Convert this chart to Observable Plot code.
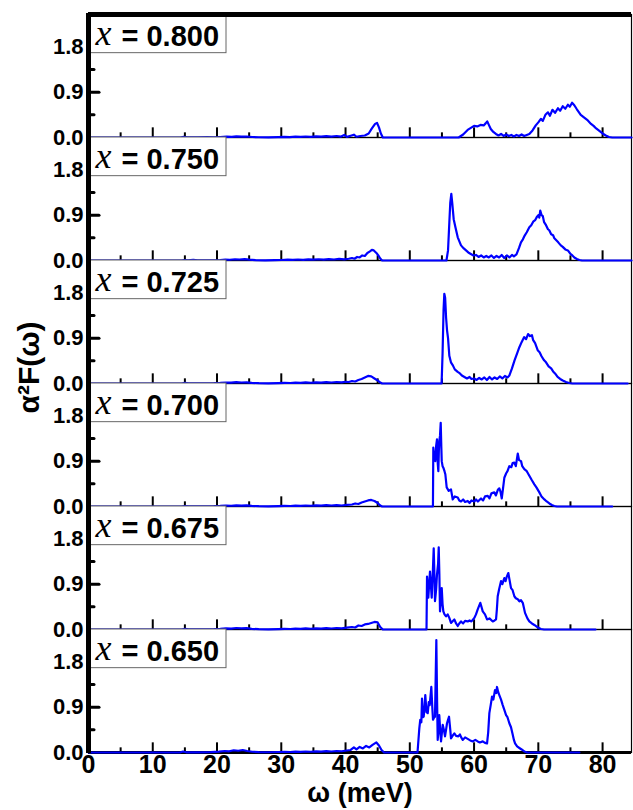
<!DOCTYPE html>
<html><head><meta charset="utf-8">
<script src="https://cdn.jsdelivr.net/npm/d3@7"></script>
<script src="https://cdn.jsdelivr.net/npm/@observablehq/plot@0.6"></script>
<style>html,body{margin:0;padding:0;background:#fff;overflow:hidden} svg{display:block}</style>
</head><body><div id="chart"></div>
<script>
const panels = ["0.800","0.750","0.725","0.700","0.675","0.650"];

const s800 = [[0,0],[14.3,0],[14.8,0.012],[15.4,0.004],[17,0.003],[18.5,0.006],[19.5,0.004],[20.5,0.01],[21.5,0.018],[22.3,0.014],[23,0.022],[23.8,0.017],[24.6,0.02],[25.5,0.01],[26.5,0.005],[28,0.003],[29.5,0.008],[30.5,0.012],[31.3,0.009],[32.2,0.016],[33,0.012],[33.8,0.02],[34.6,0.014],[35.4,0.022],[36.2,0.016],[37,0.026],[37.8,0.018],[38.6,0.03],[39.3,0.018],[39.8,0.05],[40.2,0.012],[40.8,0.035],[41.3,0.055],[41.7,0.015],[42.3,0.03],[43,0.04],[43.6,0.08],[44.1,0.18],[44.6,0.27],[44.9,0.29],[45.2,0.2],[45.5,0.08],[45.8,0],[57.6,0],[58.3,0.06],[59,0.15],[59.5,0.19],[60,0.23],[60.5,0.22],[61,0.25],[61.5,0.24],[61.8,0.28],[62.05,0.32],[62.3,0.25],[62.6,0.17],[63,0.11],[63.4,0.07],[63.8,0.04],[64.2,0.07],[64.6,0.03],[65,0.06],[65.4,0.03],[65.8,0.05],[66.2,0.02],[66.6,0.05],[67,0.03],[67.4,0.06],[67.8,0.03],[68.2,0.05],[68.6,0.07],[69.1,0.14],[69.6,0.24],[70,0.3],[70.4,0.37],[70.7,0.33],[71.1,0.45],[71.5,0.5],[71.8,0.43],[72.2,0.55],[72.6,0.49],[73.05,0.58],[73.4,0.53],[73.8,0.62],[74.2,0.57],[74.6,0.65],[74.9,0.61],[75.25,0.69],[75.6,0.64],[76,0.56],[76.6,0.45],[77.1,0.4],[77.6,0.35],[78.2,0.27],[78.6,0.23],[79,0.18],[79.5,0.13],[80,0.08],[80.5,0.04],[81,0.01],[81.5,0],[84.5,0]];

const s750 = [[0,0],[14.5,0],[15,0.01],[15.5,0.004],[16.3,0.012],[17,0.003],[19,0.005],[20.5,0.01],[21.3,0.02],[22,0.015],[22.8,0.025],[23.5,0.02],[24.3,0.028],[25,0.018],[26,0.008],[27.5,0.004],[29,0.006],[30,0.01],[31,0.016],[31.8,0.012],[32.6,0.02],[33.4,0.014],[34.2,0.022],[35,0.016],[35.8,0.025],[36.6,0.018],[37.4,0.028],[38.2,0.02],[39,0.032],[39.8,0.022],[40.5,0.035],[41,0.05],[41.4,0.035],[41.8,0.07],[42.2,0.06],[42.6,0.1],[43,0.09],[43.4,0.15],[43.8,0.18],[44.1,0.21],[44.4,0.2],[44.8,0.15],[45.1,0.1],[45.4,0.04],[45.7,0],[55.7,0],[55.95,0.2],[56.15,0.75],[56.3,1.15],[56.46,1.32],[56.6,1.15],[56.83,0.82],[57.1,0.66],[57.46,0.46],[57.97,0.3],[58.4,0.24],[58.75,0.2],[59.1,0.16],[59.5,0.13],[59.9,0.1],[60.3,0.11],[60.7,0.07],[61.1,0.1],[61.5,0.06],[61.9,0.09],[62.3,0.06],[62.7,0.1],[63.1,0.05],[63.5,0.09],[63.9,0.06],[64.3,0.11],[64.7,0.05],[65.1,0.1],[65.5,0.06],[65.9,0.11],[66.2,0.08],[66.6,0.12],[67,0.25],[67.3,0.36],[67.6,0.42],[67.9,0.5],[68.2,0.56],[68.6,0.66],[68.9,0.7],[69.2,0.77],[69.5,0.8],[69.8,0.87],[70,0.9],[70.15,0.85],[70.3,0.99],[70.5,0.9],[70.7,0.88],[70.9,0.76],[71.2,0.7],[71.5,0.62],[71.7,0.6],[72,0.52],[72.3,0.5],[72.5,0.44],[72.8,0.4],[73.1,0.36],[73.5,0.3],[73.8,0.27],[74.2,0.22],[74.6,0.2],[75,0.13],[75.3,0.1],[75.6,0.06],[76,0.03],[76.4,0.01],[76.8,0],[84.5,0]];

const s725 = [[0,0],[14.5,0],[15,0.012],[15.6,0.003],[17.5,0.004],[19.5,0.006],[20.5,0.012],[21.4,0.02],[22.2,0.016],[23,0.026],[23.8,0.02],[24.6,0.024],[25.4,0.012],[26.5,0.006],[28,0.004],[29.5,0.008],[30.5,0.013],[31.4,0.01],[32.2,0.018],[33,0.012],[33.8,0.022],[34.6,0.015],[35.4,0.024],[36.2,0.017],[37,0.028],[37.8,0.02],[38.6,0.03],[39.4,0.022],[40,0.035],[40.5,0.03],[41,0.05],[41.5,0.04],[42,0.07],[42.5,0.09],[43,0.12],[43.5,0.15],[44,0.14],[44.5,0.1],[45,0.06],[45.4,0.02],[45.7,0],[54.95,0],[55.1,0.6],[55.25,1.45],[55.37,1.78],[55.5,1.7],[55.65,1.3],[55.8,1.05],[55.95,0.9],[56.15,0.55],[56.4,0.42],[56.7,0.36],[57,0.28],[57.45,0.23],[57.8,0.2],[58.1,0.16],[58.5,0.13],[58.9,0.1],[59.3,0.13],[59.6,0.09],[60,0.1],[60.4,0.07],[60.8,0.11],[61.2,0.08],[61.6,0.12],[62,0.07],[62.4,0.13],[62.8,0.08],[63.2,0.12],[63.6,0.09],[64,0.14],[64.4,0.1],[64.8,0.15],[65.2,0.12],[65.5,0.16],[65.9,0.3],[66.3,0.46],[66.7,0.6],[67.05,0.72],[67.4,0.82],[67.8,0.92],[68.1,0.88],[68.4,0.98],[68.7,0.94],[69,0.96],[69.2,0.86],[69.5,0.8],[69.9,0.66],[70.2,0.62],[70.5,0.54],[70.9,0.46],[71.2,0.42],[71.6,0.34],[72,0.3],[72.3,0.24],[72.6,0.2],[73,0.13],[73.4,0.09],[73.8,0.06],[74.3,0.03],[74.8,0.01],[75.3,0],[83.9,0]];

const s700 = [[0,0],[14.5,0],[15,0.01],[15.6,0.003],[17.5,0.004],[19.5,0.006],[20.5,0.012],[21.4,0.02],[22.2,0.015],[23,0.024],[23.8,0.018],[24.6,0.022],[25.4,0.012],[26.5,0.006],[28,0.004],[29.5,0.008],[30.5,0.012],[31.4,0.01],[32.2,0.017],[33,0.012],[33.8,0.02],[34.6,0.015],[35.4,0.022],[36.2,0.016],[37,0.026],[37.8,0.02],[38.6,0.028],[39.4,0.02],[40.2,0.034],[41,0.04],[41.5,0.06],[42,0.05],[42.5,0.08],[43,0.1],[43.5,0.12],[44,0.13],[44.5,0.11],[45,0.07],[45.4,0.02],[45.7,0],[53.6,0],[53.66,1.17],[53.8,0.95],[53.97,0.9],[54.1,1.2],[54.23,1.33],[54.35,0.85],[54.44,0.7],[54.52,1.1],[54.59,1.3],[54.7,1.4],[54.81,1.66],[54.9,1.2],[54.97,0.9],[55.1,0.8],[55.22,0.77],[55.4,0.7],[55.53,0.64],[55.74,0.38],[56.06,0.31],[56.41,0.34],[56.68,0.14],[57,0.2],[57.46,0.18],[57.7,0.12],[57.97,0.1],[58.3,0.14],[58.6,0.09],[59.01,0.11],[59.3,0.07],[59.6,0.12],[60.04,0.1],[60.3,0.14],[60.6,0.1],[61.08,0.16],[61.4,0.12],[61.7,0.2],[62.13,0.21],[62.4,0.16],[62.7,0.26],[63.15,0.28],[63.4,0.22],[63.7,0.33],[63.93,0.36],[64.1,0.3],[64.31,0.16],[64.5,0.35],[64.71,0.57],[65,0.66],[65.2,0.7],[65.49,0.8],[65.8,0.78],[66,0.86],[66.27,0.87],[66.5,0.8],[66.8,1.05],[67,0.92],[67.31,0.9],[67.5,0.8],[67.82,0.74],[68.2,0.7],[68.6,0.61],[69,0.52],[69.38,0.44],[69.7,0.38],[70.16,0.28],[70.5,0.2],[70.94,0.14],[71.3,0.1],[71.72,0.06],[72.1,0.03],[72.49,0.01],[72.9,0],[81.5,0]];

const s675 = [[0,0],[14.5,0],[15,0.012],[15.6,0.003],[17.5,0.004],[19.5,0.007],[20.5,0.014],[21.4,0.024],[22.2,0.018],[23,0.03],[23.8,0.022],[24.6,0.026],[25.4,0.014],[26.5,0.006],[28,0.004],[29.5,0.008],[30.5,0.013],[31.4,0.01],[32.2,0.018],[33,0.012],[33.8,0.021],[34.6,0.015],[35.4,0.024],[36.2,0.017],[37,0.027],[37.8,0.02],[38.6,0.03],[39.4,0.022],[40.2,0.036],[41,0.05],[41.5,0.04],[42,0.08],[42.5,0.07],[43,0.1],[43.5,0.11],[44,0.13],[44.5,0.15],[45,0.14],[45.4,0.05],[45.8,0],[52.6,0],[52.68,1.05],[52.88,0.63],[53.14,1.15],[53.41,0.63],[53.6,1.2],[53.72,1.61],[53.85,1.0],[53.92,0.56],[54.1,0.8],[54.23,1.09],[54.4,1.3],[54.5,1.63],[54.6,1.1],[54.7,0.36],[54.85,0.6],[54.97,0.82],[55.1,0.5],[55.22,0.36],[55.4,0.3],[55.64,0.26],[55.9,0.3],[56.15,0.23],[56.41,0.13],[56.7,0.17],[56.93,0.2],[57.2,0.12],[57.46,0.07],[57.7,0.12],[57.97,0.16],[58.3,0.12],[58.6,0.17],[59.01,0.16],[59.3,0.18],[59.6,0.16],[60.04,0.23],[60.3,0.3],[60.57,0.4],[60.97,0.53],[61.15,0.45],[61.35,0.36],[61.7,0.3],[62.02,0.2],[62.4,0.22],[62.91,0.16],[63.2,0.18],[63.42,0.2],[63.55,0.4],[63.68,0.66],[63.9,0.8],[64.2,0.96],[64.4,0.9],[64.71,1.02],[64.9,0.96],[65.1,1.05],[65.33,1.12],[65.5,1.0],[65.75,0.82],[66,0.78],[66.27,0.66],[66.5,0.62],[66.8,0.6],[67.05,0.56],[67.3,0.58],[67.58,0.53],[67.93,0.33],[68.3,0.22],[68.6,0.16],[69,0.12],[69.38,0.09],[69.8,0.05],[70.4,0.01],[70.9,0],[78.9,0]];

const s650 = [[0,0],[14.2,0],[14.7,0.02],[15.2,0.004],[17,0.004],[19,0.008],[20.3,0.016],[21.2,0.03],[21.9,0.024],[22.6,0.045],[23.3,0.035],[24,0.05],[24.7,0.03],[25.5,0.015],[26.5,0.008],[28,0.005],[29.5,0.01],[30.5,0.014],[31.4,0.01],[32.2,0.018],[33,0.013],[33.8,0.02],[34.6,0.015],[35.4,0.024],[36.2,0.017],[37,0.026],[37.8,0.02],[38.6,0.03],[39.4,0.025],[40.2,0.04],[40.8,0.05],[41.3,0.1],[41.7,0.06],[42.2,0.11],[42.7,0.08],[43.2,0.13],[43.7,0.1],[44.2,0.15],[44.8,0.2],[45.2,0.14],[45.6,0.05],[46,0],[51.2,0],[51.48,0.48],[51.63,0.65],[51.8,0.6],[51.9,1.07],[52.05,0.7],[52.16,0.71],[52.3,0.9],[52.41,1.14],[52.6,0.8],[52.79,0.78],[52.95,1.0],[53.1,0.94],[53.35,1.3],[53.5,0.9],[53.61,0.65],[53.8,0.7],[53.92,0.71],[54.13,2.23],[54.25,1.0],[54.34,0.25],[54.5,0.5],[54.59,0.74],[54.75,0.4],[54.86,0.22],[55,0.4],[55.12,0.55],[55.3,0.45],[55.48,0.32],[55.64,0.45],[55.79,0.58],[55.95,0.65],[56.1,0.71],[56.3,0.45],[56.41,0.28],[56.7,0.34],[56.93,0.38],[57.2,0.33],[57.55,0.32],[57.8,0.36],[58,0.3],[58.24,0.25],[58.6,0.3],[59.01,0.27],[59.4,0.24],[59.79,0.22],[60.2,0.25],[60.57,0.22],[60.9,0.2],[61.35,0.22],[61.7,0.19],[62.02,0.18],[62.2,0.4],[62.38,0.78],[62.6,0.95],[62.8,1.11],[63,1.05],[63.26,1.24],[63.45,1.18],[63.57,1.3],[63.75,1.2],[63.93,1.14],[64.2,1.05],[64.46,0.94],[64.7,0.85],[64.98,0.74],[65.2,0.7],[65.49,0.58],[65.75,0.5],[66.02,0.35],[66.2,0.25],[66.38,0.18],[66.7,0.12],[67.05,0.09],[67.4,0.06],[67.82,0.02],[68.3,0],[76.4,0]];

const xTickLabels = [0,10,20,30,40,50,60,70,80];
const xTicksMajor = [10,20,30,40,50,60,70,80];
const xTicksMinor = [5,15,25,35,45,55,65,75];
const yTickLabels = [0,0.9,1.8];
const yTicksMajor = [0.9,1.8];
const yTicksMinor = [0.45,1.35];
const xDomain = [0,84.5];
const yDomain = [0,2.44];

const series = [s800,s750,s725,s700,s675,s650];
const rows = panels.flatMap((p,i) => series[i].map(([w,a]) => ({panel:p, w, a})));
const labels = panels.map(p => ({panel:p, value:"= " + p}));
const perPanel = (vals) => panels.flatMap(p => vals.map(t => ({panel:p, t})));
const topEdge = [{panel: panels[0], t: yDomain[1]}];
const bottomEdge = [{panel: panels[panels.length-1], t: yDomain[0]}];
const bottomPanel = [{panel: panels[panels.length-1]}];
const midPanel = [{panel: panels[2]}];

const W = 633, H = 810, mL = 88, mR = 2, mT = 13, mB = 57;
const plotW = W - mL - mR;
const facetH = (H - mT - mB) / panels.length;
const sans = "'Liberation Sans', Arial, sans-serif";

const chart = Plot.plot({
  width: W, height: H,
  marginLeft: mL, marginRight: mR, marginTop: mT, marginBottom: mB,
  style: {fontFamily: sans, background: "white", color: "black", overflow: "visible"},
  x: {domain: xDomain},
  y: {domain: yDomain},
  fy: {domain: panels, padding: 0, axis: null},
  marks: [
    Plot.frame({stroke: "black", strokeWidth: 1.2}),
    Plot.axisY({ticks: yTickLabels, tickSize: 0, tickPadding: 5, tickFormat: d3.format(".1f"), fontSize: 22, fontWeight: "bold", label: null}),
    Plot.axisX({ticks: xTickLabels, tickSize: 0, tickPadding: 3, tickFormat: d3.format("d"), fontSize: 25, fontWeight: "bold", label: null}),
    Plot.text(bottomPanel, {fy: "panel", text: () => "ω (meV)", frameAnchor: "bottom", lineAnchor: "middle", dy: 41, fontSize: 27, fontWeight: "bold"}),
    Plot.text(midPanel, {fy: "panel", text: () => "α²F(ω)", frameAnchor: "bottom-left", textAnchor: "middle", lineAnchor: "middle", rotate: -90, dx: -59, dy: -16, fontSize: 30, fontWeight: "bold"}),
    Plot.ruleY(bottomEdge, {y: "t", fy: "panel", stroke: "black", strokeWidth: 3}),
    Plot.ruleX(perPanel(xTicksMajor), {x: "t", fy: "panel", stroke: "black", strokeWidth: 2, insetTop: facetH - 10}),
    Plot.ruleX(perPanel(xTicksMinor), {x: "t", fy: "panel", stroke: "black", strokeWidth: 2, insetTop: facetH - 5}),
    Plot.ruleY(perPanel(yTicksMajor), {y: "t", fy: "panel", stroke: "black", strokeWidth: 3, strokeLinecap: "round", insetRight: plotW - 11}),
    Plot.ruleY(perPanel(yTicksMinor), {y: "t", fy: "panel", stroke: "black", strokeWidth: 3, strokeLinecap: "round", insetRight: plotW - 6}),
    Plot.line(rows, {x: "w", y: "a", fy: "panel", stroke: "#0000ff", strokeWidth: 2.2}),
    Plot.rect(labels, {fy: "panel", fill: "white", stroke: "#666", strokeWidth: 1, insetLeft: 1, insetRight: plotW - 138, insetBottom: facetH - 39}),
    Plot.text(labels, {fy: "panel", text: () => "x", frameAnchor: "top-left", textAnchor: "start", lineAnchor: "middle", dx: 7, dy: 19, fontFamily: "'Liberation Serif', 'Times New Roman', serif", fontStyle: "italic", fontSize: 36}),
    Plot.text(labels, {fy: "panel", text: "value", frameAnchor: "top-left", textAnchor: "start", lineAnchor: "middle", dx: 33, dy: 22, fontSize: 29, fontWeight: "bold"}),
    Plot.ruleY(topEdge, {y: "t", fy: "panel", stroke: "#000", strokeWidth: 5}),
    Plot.ruleX(perPanel([xDomain[0]]), {x: "t", fy: "panel", stroke: "#000", strokeWidth: 5, insetTop: -1, insetBottom: -1})
  ]
});
document.getElementById("chart").appendChild(chart);
</script>
</body></html>
